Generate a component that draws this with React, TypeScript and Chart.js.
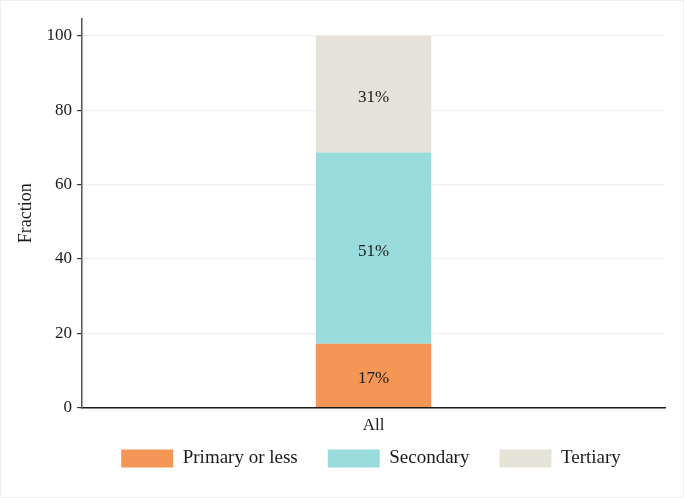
import { useEffect, useRef } from 'react';
import { Chart, registerables } from 'chart.js';

Chart.register(...registerables);

// values (percent of respondents)
const categories = ['All'];
const seriesNames = ['Primary or less', 'Secondary', 'Tertiary'];
const primary = [17.2];
const secondary = [51.4];
const tertiary = [31.4];
const yTicks = [0, 20, 40, 60, 80, 100];
const colors = ['#f39656', '#99dcdb', '#e5e2d8'];

const FONT = "'Liberation Serif', 'DejaVu Serif', serif";
const LEGEND_TRIM = 17;

// draws the "17%" labels in the middle of each stacked segment
const segmentLabels = {
  id: 'segmentLabels',
  afterDatasetsDraw(chart) {
    const ctx = chart.ctx;
    ctx.save();
    ctx.font = `17px ${FONT}`;
    ctx.fillStyle = '#1a1a1a';
    ctx.textAlign = 'center';
    ctx.textBaseline = 'middle';
    chart.data.datasets.forEach((ds, i) => {
      const meta = chart.getDatasetMeta(i);
      meta.data.forEach((bar, j) => {
        const { x, y, base } = bar.getProps(['x', 'y', 'base'], true);
        // +3 so the digits (not the em box) sit on the segment's middle
        ctx.fillText(`${Math.round(ds.data[j])}%`, x, (y + base) / 2 + 3);
      });
    });
    ctx.restore();
  },
};

// the legend keeps wide item spacing but takes less room above it,
// and is centred under the plot area rather than the whole canvas
const legendTweak = {
  id: 'legendTweak',
  beforeLayout(chart) {
    const leg = chart.legend;
    if (leg && !leg._trimmed) {
      const fit = leg.fit.bind(leg);
      leg.fit = () => {
        fit();
        leg.height -= LEGEND_TRIM;
      };
      leg._trimmed = true;
    }
  },
  afterLayout(chart) {
    const leg = chart.legend;
    if (!leg) return;
    leg.left += 62;
    leg.top -= LEGEND_TRIM;
  },
};

export default function App() {
  const canvasRef = useRef(null);

  useEffect(() => {
    const prevMargin = document.body.style.margin;
    document.body.style.margin = '0';
    const chart = new Chart(canvasRef.current, {
      type: 'bar',
      data: {
        labels: categories,
        datasets: [primary, secondary, tertiary].map((d, i) => ({
          label: seriesNames[i],
          data: d,
          backgroundColor: colors[i],
          borderWidth: 0,
          barPercentage: 0.198,
          categoryPercentage: 1,
        })),
      },
      options: {
        animation: false,
        responsive: false,
        layout: { padding: { left: 14, right: 18, top: 18, bottom: 19 } },
        scales: {
          x: {
            stacked: true,
            grid: { display: false },
            border: { color: '#1a1a1a', width: 1.5 },
            ticks: { color: '#1a1a1a', font: { family: FONT, size: 17 }, padding: 0 },
          },
          y: {
            stacked: true,
            min: 0,
            max: 104.5,
            afterBuildTicks: (scale) => {
              scale.ticks = yTicks.map((v) => ({ value: v }));
            },
            grid: { color: '#ebf1f3', tickColor: '#333', tickLength: 5, lineWidth: 1.2 },
            border: { color: '#555', width: 1.5 },
            ticks: { color: '#1a1a1a', font: { family: FONT, size: 17 }, padding: 5 },
            title: {
              display: true,
              text: 'Fraction',
              color: '#1a1a1a',
              font: { family: FONT, size: 18 },
              padding: { top: 0, bottom: 5 },
            },
          },
        },
        plugins: {
          legend: {
            position: 'bottom',
            labels: {
              boxWidth: 52,
              boxHeight: 18,
              padding: 30,
              color: '#1a1a1a',
              font: { family: FONT, size: 19 },
            },
          },
          tooltip: { enabled: false },
        },
      },
      plugins: [segmentLabels, legendTweak],
    });
    return () => {
      chart.destroy();
      document.body.style.margin = prevMargin;
    };
  }, []);

  return (
    <div style={{ width: 684, height: 498, background: '#fff', boxSizing: 'border-box', border: '1px solid #eeeeee' }}>
      <canvas ref={canvasRef} width={682} height={496} style={{ display: 'block' }} />
    </div>
  );
}
